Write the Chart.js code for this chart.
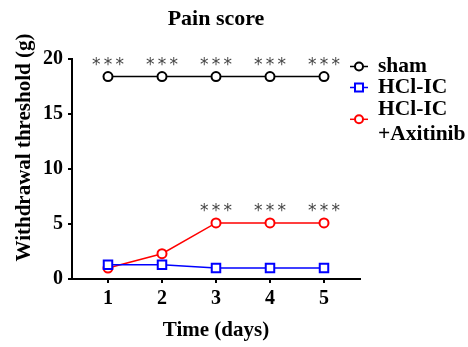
<!DOCTYPE html>
<html>
<head>
<meta charset="utf-8">
<script src="https://cdn.jsdelivr.net/npm/chart.js@4"></script>
<style>
  html, body { margin: 0; padding: 0; background: #fff; }
  #wrap { width: 468px; height: 347px; }
</style>
</head>
<body>
<div id="wrap"><canvas id="myChart" width="468" height="347"></canvas></div>
<script>
// Данные графика
let days = [1, 2, 3, 4, 5];
let seriesNames = ['sham', 'HCl-IC', ['HCl-IC', '+Axitinib']];
let sham = [18.4, 18.4, 18.4, 18.4, 18.4];
let hclIC = [1.3, 1.3, 1.0, 1.0, 1.0];
let axitinib = [1.0, 2.3, 5.1, 5.1, 5.1];
let shamStars = ['***', '***', '***', '***', '***'];
let axitinibStars = ['', '', '***', '***', '***'];
let yTicks = [0, 5, 10, 15, 20];

let colors = ['#000000', '#0000ff', '#ff0000'];
let serif = "'Liberation Serif', 'Times New Roman', serif";

function toPoints(values) {
    return days.map((d, i) => ({ x: d, y: values[i] }));
}

// Звёздочки, подпись оси Y и легенда
const extras = {
    id: 'extras',
    afterDatasetsDraw(chart) {
        const ctx = chart.ctx;
        ctx.save();

        // звёздочки над точками
        ctx.fillStyle = '#444';
        ctx.font = "17px 'DejaVu Sans'";
        ctx.textAlign = 'center';
        ctx.textBaseline = 'alphabetic';
        [[0, shamStars], [2, axitinibStars]].forEach(([idx, stars]) => {
            const meta = chart.getDatasetMeta(idx);
            stars.forEach((s, j) => {
                if (!s) return;
                const p = meta.data[j];
                for (let k = 0; k < s.length; k++) {
                    ctx.fillText('*', p.x + (k - (s.length - 1) / 2) * 11.7, p.y - 6.5);
                }
            });
        });

        // подпись оси Y
        ctx.save();
        ctx.translate(25, 147.5);
        ctx.rotate(-Math.PI / 2);
        ctx.fillStyle = '#000';
        ctx.font = 'bold 21px ' + serif;
        ctx.textAlign = 'center';
        ctx.textBaseline = 'middle';
        ctx.fillText('Withdrawal threshold (g)', 0, 0);
        ctx.restore();

        // легенда
        const rows = [66.5, 87.5, 119.3];
        const x0 = 350, x1 = 368, tx = 378;
        ctx.font = 'bold 21.5px ' + serif;
        ctx.textAlign = 'left';
        ctx.textBaseline = 'middle';
        seriesNames.forEach((name, i) => {
            const y = rows[i];
            ctx.strokeStyle = colors[i];
            ctx.lineWidth = 1.5;
            ctx.beginPath();
            ctx.moveTo(x0, y);
            ctx.lineTo(x1, y);
            ctx.stroke();
            ctx.fillStyle = '#fff';
            ctx.lineWidth = 2;
            ctx.beginPath();
            if (i === 1) {
                ctx.rect((x0 + x1) / 2 - 4, y - 4, 8, 8);
            } else {
                ctx.arc((x0 + x1) / 2, y, 4, 0, Math.PI * 2);
            }
            ctx.fill();
            ctx.stroke();
            ctx.fillStyle = '#000';
            if (Array.isArray(name)) {
                ctx.fillText(name[0], tx, y - 10.3);
                ctx.fillText(name[1], tx, y + 14.7);
            } else {
                ctx.fillText(name, tx, y);
            }
        });
        ctx.restore();
    }
};

function makeDataset(values, color, style, radius) {
    return {
        data: toPoints(values),
        borderColor: color,
        backgroundColor: color,
        borderWidth: 1.5,
        pointStyle: style,
        pointRadius: radius,
        pointBorderWidth: 2,
        pointBackgroundColor: '#fff',
        pointBorderColor: color,
        tension: 0
    };
}

let ctx = document.getElementById('myChart').getContext('2d');
let myChart = new Chart(ctx, {
    type: 'line',
    data: {
        datasets: [
            makeDataset(sham, colors[0], 'circle', 4.5),
            makeDataset(hclIC, colors[1], 'rect', 6),
            makeDataset(axitinib, colors[2], 'circle', 4.5)
        ]
    },
    options: {
        responsive: false,
        animation: false,
        events: [],
        layout: { padding: { right: 108, top: 0 } },
        plugins: {
            legend: { display: false },
            tooltip: { enabled: false },
            title: {
                display: true,
                fullSize: false,
                text: 'Pain score',
                color: '#000',
                font: { family: serif, size: 22, weight: 'bold' },
                padding: { top: 6, bottom: 26.6 }
            }
        },
        scales: {
            x: {
                type: 'linear',
                min: 1 - 2 / 3,
                max: 5 + 2 / 3,
                afterBuildTicks: (scale) => { scale.ticks = days.map(d => ({ value: d })); },
                afterFit: (scale) => { scale.height = 68; },
                border: { color: '#000', width: 2 },
                grid: { drawOnChartArea: false, drawTicks: true, tickLength: 4, color: '#000', lineWidth: 2 },
                ticks: {
                    color: '#000',
                    font: { family: serif, size: 20, weight: 'bold' },
                    padding: 4,
                    maxRotation: 0
                },
                title: {
                    display: true,
                    text: 'Time (days)',
                    color: '#000',
                    font: { family: serif, size: 21, weight: 'bold' },
                    padding: { top: 0, bottom: 4 }
                }
            },
            y: {
                min: 0,
                max: 20,
                afterBuildTicks: (scale) => { scale.ticks = yTicks.map(v => ({ value: v })); },
                afterFit: (scale) => { scale.width = 72; },
                border: { color: '#000', width: 2 },
                grid: { drawOnChartArea: false, drawTicks: true, tickLength: 4, color: '#000', lineWidth: 2 },
                ticks: {
                    color: '#000',
                    font: { family: serif, size: 20, weight: 'bold' },
                    padding: 5
                }
            }
        }
    },
    plugins: [extras]
});
</script>
</body>
</html>
